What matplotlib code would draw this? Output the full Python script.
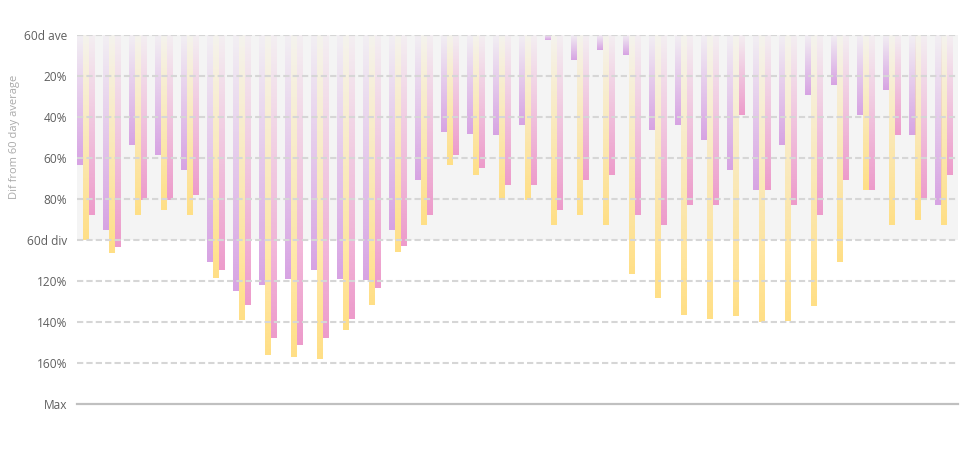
import numpy as np
import matplotlib
matplotlib.use('Agg')
import matplotlib.pyplot as plt
from matplotlib.colors import to_rgb
from matplotlib.transforms import blended_transform_factory

plt.rcParams['font.family'] = ['Open Sans', 'DejaVu Sans']

# valores (% de diferencia con el promedio de 60 dias)
purple = [63.6, 95.3, 53.8, 58.7, 66.0, 110.9, 125.0, 122.1, 119.2, 114.8,
          119.2, 119.7, 95.3, 70.9, 47.5, 48.5, 48.9, 44.0, 2.6, 12.4,
          7.5, 9.9, 46.5, 44.0, 51.4, 66.0, 75.8, 53.8, 29.4, 24.6,
          39.2, 27.0, 48.9, 83.1]
yellow = [100, 106.5, 88, 85.5, 88, 118.7, 139.2, 156.3, 157.2, 158.2,
          144.1, 131.9, 106.0, 92.8, 63.6, 68.5, 80.7, 80.7, 92.8, 88,
          92.8, 116.7, 128.5, 136.7, 138.7, 137.2, 140.2, 139.7, 132.4, 110.9,
          75.8, 92.8, 90.4, 92.8]
pink = [88, 103.6, 80.7, 80.7, 78.2, 114.8, 131.9, 148, 151.4, 148,
        138.7, 123.6, 103.1, 88, 58.7, 65, 73.3, 73.3, 85.5, 70.9,
        68.5, 88, 92.8, 83.1, 83.1, 39.2, 75.8, 83.1, 88, 70.9,
        75.8, 48.9, 80.7, 68.5]

tick_vals = [0, 20, 40, 60, 80, 100, 120, 140, 160, 180]
tick_labels = ['60d ave', '20%', '40%', '60%', '80%', '60d div',
               '120%', '140%', '160%', 'Max']

fig = plt.figure(figsize=(9.77, 4.72), dpi=100)
ax = fig.add_axes([77 / 977, 1 - 403.67 / 472, 881 / 977, 369 / 472])

w = 6 / 26
x = np.arange(len(purple))


def grad_bars(xs, vals, color):
    bars = ax.bar(xs, vals, width=w, align='edge', color='none', linewidth=0)
    r, g, b = to_rgb(color)
    for bar in bars:
        x0 = bar.get_x()
        h = bar.get_height()
        img = np.zeros((80, 1, 4))
        img[..., 0] = r
        img[..., 1] = g
        img[..., 2] = b
        img[:, 0, 3] = np.linspace(0.06, 1.0, 80)
        ax.imshow(img, extent=[x0, x0 + w, h, 0], aspect='auto',
                  interpolation='bilinear', zorder=2)


grad_bars(x, purple, '#d7a3e3')
grad_bars(x + w, yellow, '#ffdf86')
grad_bars(x + 2 * w, pink, '#ed9bcb')

ax.axhspan(0, 100, color='#f4f4f4', zorder=0, linewidth=0)
for v in tick_vals[:-1]:
    ax.axhline(v, color='#d6d6d6', lw=1.5, ls=(0, (3, 1.5)), zorder=3)
ax.axhline(180, color='#c0c0c0', lw=1.6, zorder=3, clip_on=False)

ax.set_xlim(0, 881 / 26)
ax.set_ylim(180, 0)
ax.set_yticks(tick_vals)
ax.set_yticklabels(tick_labels)
ax.set_xticks([])
ax.tick_params(axis='y', length=0, pad=7, labelsize=8.6, labelcolor='#5f5f5f')
for s in ax.spines.values():
    s.set_visible(False)

trans = blended_transform_factory(ax.transAxes, ax.transData)
ax.text(-62 / 881, 50, 'Dif from 60 day average', transform=trans,
        rotation=90, ha='center', va='center', fontsize=8, color='#aaaaaa')

fig.savefig('out.png', dpi=100)
